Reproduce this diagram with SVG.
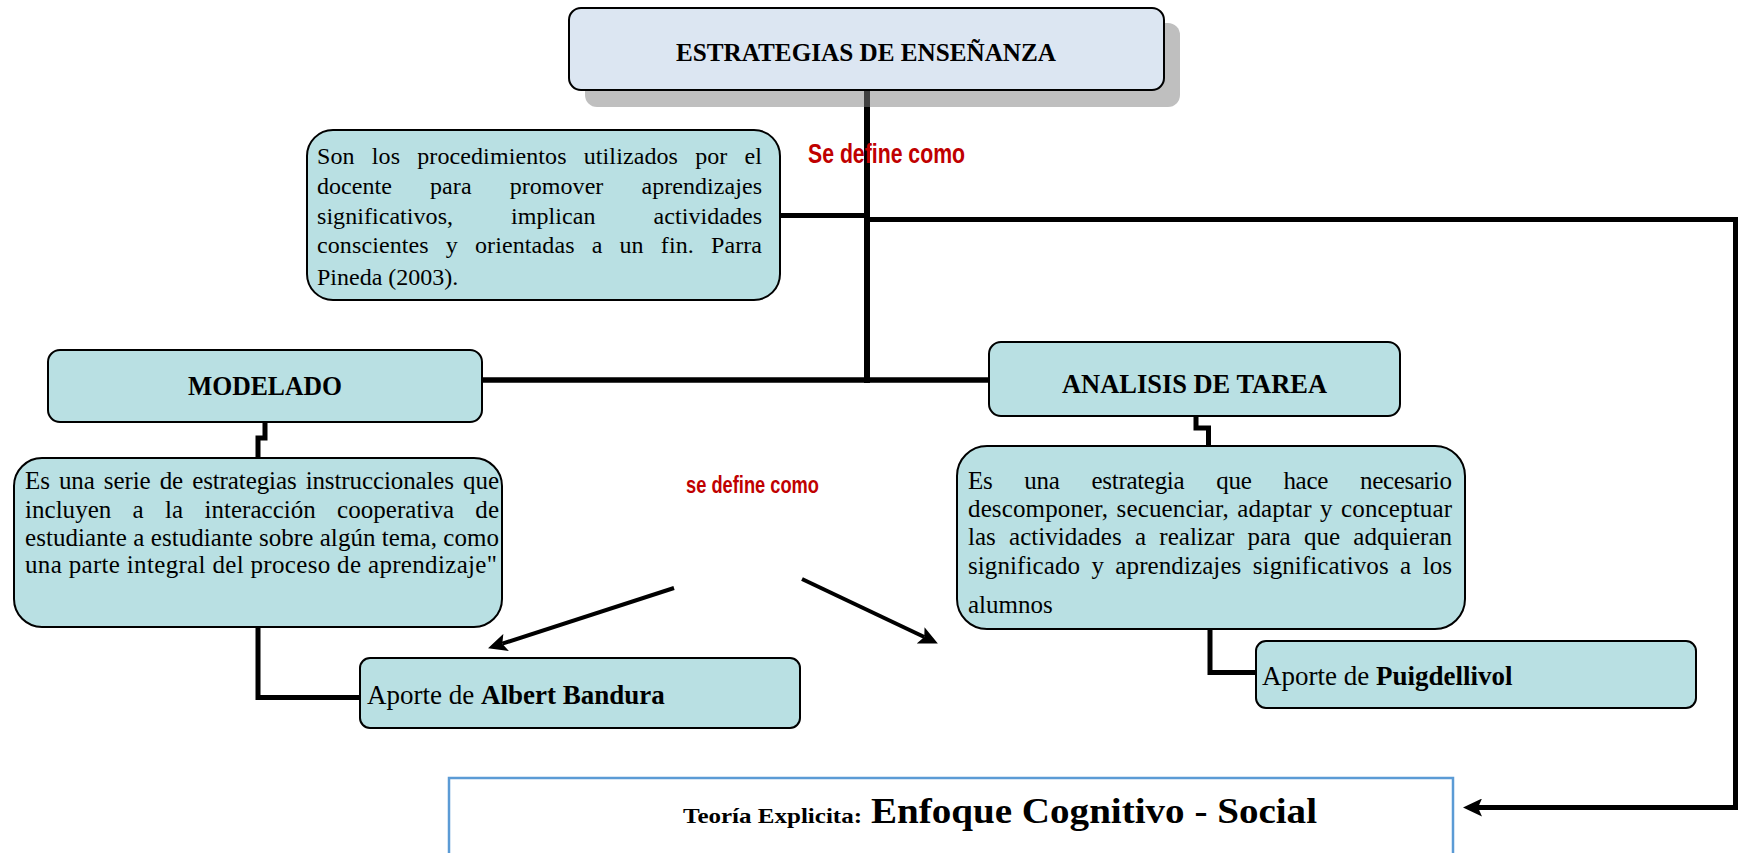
<svg xmlns="http://www.w3.org/2000/svg" width="1738" height="853" viewBox="0 0 1738 853">
<style>
.box{fill:#b9e0e3;stroke:#000;stroke-width:2}
.topbox{fill:#dce6f2;stroke:#000;stroke-width:2}
.shadow{fill:#808080;fill-opacity:0.5}
.serif{font-family:"Liberation Serif","Times New Roman",serif;fill:#000}
.b{font-weight:bold}
.conn{fill:none;stroke:#000;stroke-width:5;stroke-linejoin:miter}
.arr{fill:none;stroke:#000;stroke-width:4}
.red{font-family:"Liberation Sans",Arial,sans-serif;font-weight:bold;fill:#c00000}
.outbox{fill:#fff;stroke:#5b9bd5;stroke-width:2.5}
</style>
<defs>
<marker id="ah" markerUnits="userSpaceOnUse" markerWidth="20" markerHeight="18" refX="4" refY="9" orient="auto">
<path d="M0,0 L19,9 L0,18 L4,9 z" fill="#000"/>
</marker>
</defs>
<rect width="1738" height="853" fill="#fff"/>

<g id="connectors">
<line x1="867" y1="88" x2="867" y2="383" stroke="#000" stroke-width="6"/>
<line x1="780" y1="215.5" x2="868" y2="215.5" stroke="#000" stroke-width="5"/>
<path class="conn" d="M864,219.5 H1735.5 V807.5 H1478" marker-end="url(#ah)"/>
<line x1="482" y1="380" x2="989" y2="380" stroke="#000" stroke-width="5.5"/>
<path class="conn" d="M265,422 V438 H258 V458"/>
<path class="conn" d="M258,627 V697.5 H360"/>
<path class="conn" d="M1196,416 V428 H1208.5 V446"/>
<path class="conn" d="M1210,629 V672.5 H1256"/>
<line class="arr" x1="674" y1="588" x2="502.3" y2="643.7" marker-end="url(#ah)"/>
<line class="arr" x1="802" y1="579" x2="924.3" y2="637" marker-end="url(#ah)"/>
</g>

<g id="n-estrategias">
<rect class="shadow" x="585" y="23" width="595" height="84" rx="12"/>
<rect class="topbox" x="569" y="8" width="595" height="82" rx="12"/>
<text class="serif b" x="676" y="61" font-size="26" textLength="380" lengthAdjust="spacingAndGlyphs">ESTRATEGIAS  DE ENSEÑANZA</text>
</g>

<g id="n-label-se-define">
<text class="red" x="808" y="163" font-size="28" textLength="157" lengthAdjust="spacingAndGlyphs">Se define como</text>
</g>

<g id="n-definicion">
<rect class="box" x="307" y="130" width="473" height="170" rx="26"/>
<g class="serif" font-size="24">
<text x="317" y="164" word-spacing="11" textLength="445" lengthAdjust="spacing">Son los procedimientos utilizados por el</text>
<text x="317" y="194" word-spacing="32" textLength="445" lengthAdjust="spacing">docente para promover aprendizajes</text>
<text x="317" y="224" word-spacing="52" textLength="445" lengthAdjust="spacing">significativos, implican actividades</text>
<text x="317" y="253" word-spacing="11" textLength="445" lengthAdjust="spacing">conscientes y orientadas a un fin. Parra</text>
<text x="317" y="285">Pineda (2003).</text>
</g>
</g>

<g id="n-modelado">
<rect class="box" x="48" y="350" width="434" height="72" rx="12"/>
<text class="serif b" x="188" y="395" font-size="28" textLength="154" lengthAdjust="spacingAndGlyphs">MODELADO</text>
</g>

<g id="n-analisis">
<rect class="box" x="989" y="342" width="411" height="74" rx="12"/>
<text class="serif b" x="1062" y="393" font-size="28" textLength="265" lengthAdjust="spacingAndGlyphs">ANALISIS DE TAREA</text>
</g>

<g id="n-def-modelado">
<rect class="box" x="14" y="458" width="488" height="169" rx="28"/>
<g class="serif" font-size="25">
<text x="25" y="489" word-spacing="3" textLength="474" lengthAdjust="spacing">Es una serie de estrategias instruccionales que</text>
<text x="25" y="518" word-spacing="15" textLength="474" lengthAdjust="spacing">incluyen a la interacción cooperativa de</text>
<text x="25" y="546" textLength="474" lengthAdjust="spacing">estudiante a estudiante sobre algún tema, como</text>
<text x="25" y="573" textLength="472" lengthAdjust="spacing">una parte integral del proceso de aprendizaje"</text>
</g>
</g>

<g id="n-label-se-define-2">
<text class="red" x="686" y="493" font-size="24" textLength="133" lengthAdjust="spacingAndGlyphs">se define como</text>
</g>

<g id="n-def-analisis">
<rect class="box" x="957" y="446" width="508" height="183" rx="30"/>
<g class="serif" font-size="25">
<text x="968" y="489" word-spacing="26" textLength="484" lengthAdjust="spacing">Es una estrategia que hace necesario</text>
<text x="968" y="517" word-spacing="2" textLength="484" lengthAdjust="spacing">descomponer, secuenciar, adaptar y conceptuar</text>
<text x="968" y="545" word-spacing="7" textLength="484" lengthAdjust="spacing">las actividades a realizar para que adquieran</text>
<text x="968" y="574" word-spacing="5" textLength="484" lengthAdjust="spacing">significado y aprendizajes significativos a los</text>
<text x="968" y="613">alumnos</text>
</g>
</g>

<g id="n-bandura">
<rect class="box" x="360" y="658" width="440" height="70" rx="10"/>
<text class="serif" x="367" y="704" font-size="27">Aporte de <tspan class="b">Albert Bandura</tspan></text>
</g>

<g id="n-puigdellivol">
<rect class="box" x="1256" y="641" width="440" height="67" rx="10"/>
<text class="serif" x="1262" y="685" font-size="27">Aporte de <tspan class="b">Puigdellivol</tspan></text>
</g>

<g id="n-teoria">
<rect class="outbox" x="449" y="778" width="1004" height="100"/>
<text class="serif b" x="683" y="823" font-size="22" textLength="179" lengthAdjust="spacingAndGlyphs">Teoría Explicita:</text>
<text class="serif b" x="871" y="823" font-size="36" textLength="446" lengthAdjust="spacingAndGlyphs">Enfoque Cognitivo - Social</text>
</g>
</svg>
